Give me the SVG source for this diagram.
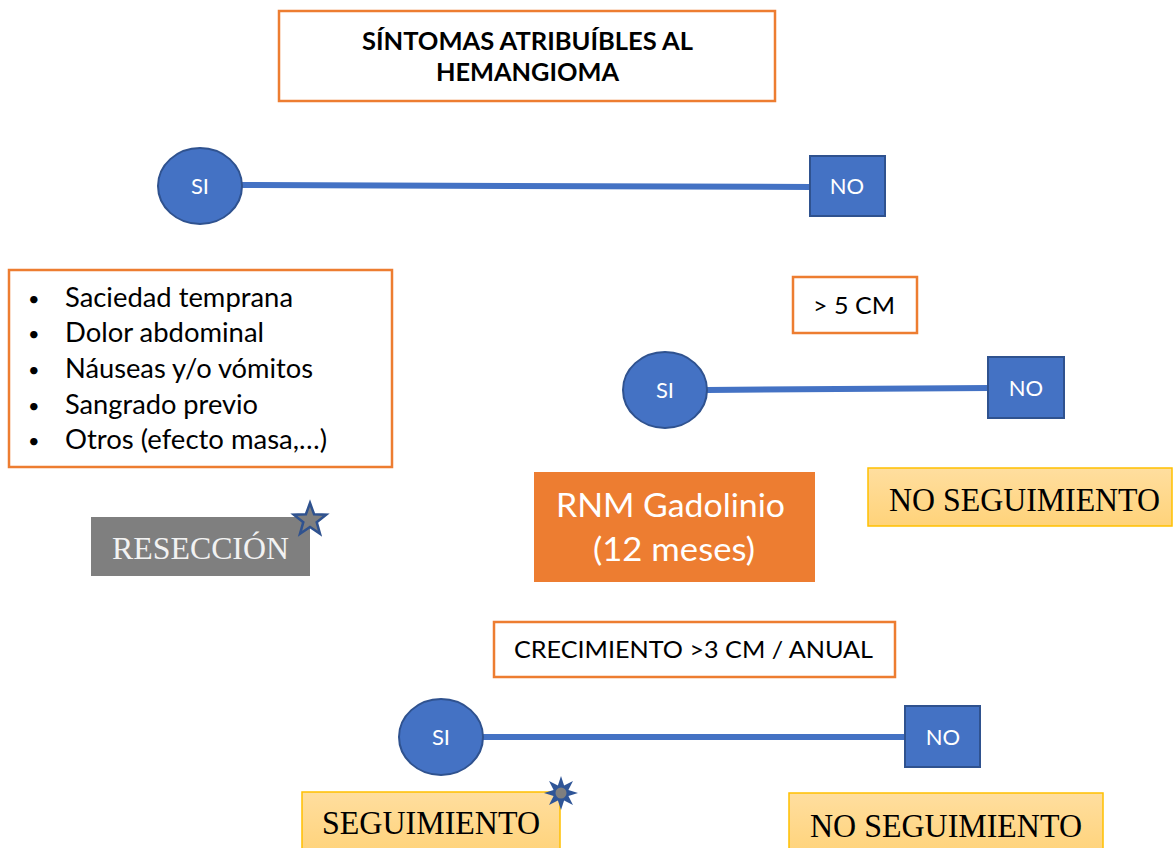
<svg xmlns="http://www.w3.org/2000/svg" width="1175" height="848" viewBox="0 0 1175 848">
<defs>
<linearGradient id="gold" x1="0" y1="0" x2="0" y2="1">
<stop offset="0" stop-color="#FFDE9F"/>
<stop offset="1" stop-color="#FFD37A"/>
</linearGradient>
<style>
.ob{fill:#FFFFFF;stroke:#ED7D31;stroke-width:2.5}
.bl{fill:#4472C4;stroke:#2F528F;stroke-width:2}
.wt{fill:#FFFFFF;font-family:Lato,"Liberation Sans",sans-serif;font-size:22px;text-anchor:middle}
.bk{fill:#000000;font-family:Lato,"Liberation Sans",sans-serif}
.gd{fill:url(#gold);stroke:#FFC000;stroke-width:1.5}
.tm{fill:#000000;font-family:"Liberation Serif","Times New Roman",serif;font-size:33px}
.cn{stroke:#4472C4;stroke-width:6;fill:none}
</style>
</defs>
<rect width="1175" height="848" fill="#FFFFFF"/>

<g id="connectors">
<line class="cn" x1="242" y1="185" x2="811" y2="187"/>
<line class="cn" x1="707" y1="390" x2="989" y2="388"/>
<line class="cn" x1="483" y1="737" x2="906" y2="737"/>
</g>

<g id="title">
<rect class="ob" x="279" y="11" width="496" height="90"/>
<text class="bk" x="362" y="50" font-size="24" font-weight="700" textLength="331" lengthAdjust="spacingAndGlyphs">SÍNTOMAS ATRIBUÍBLES AL</text>
<text class="bk" x="436" y="81" font-size="24" font-weight="700" textLength="183" lengthAdjust="spacingAndGlyphs">HEMANGIOMA</text>
</g>

<g id="si1">
<ellipse class="bl" cx="200" cy="186" rx="42" ry="38"/>
<text class="wt" x="200" y="194">SI</text>
</g>
<g id="no1">
<rect class="bl" x="810" y="156" width="75" height="60"/>
<text class="wt" x="847" y="194">NO</text>
</g>

<g id="sintomas">
<rect class="ob" x="9" y="270" width="383" height="197"/>
<g class="bk" font-size="26">
<text x="28" y="306" font-size="20">•</text>
<text x="28" y="341" font-size="20">•</text>
<text x="28" y="377" font-size="20">•</text>
<text x="28" y="413" font-size="20">•</text>
<text x="28" y="448" font-size="20">•</text>
<text x="65" y="307" textLength="228" lengthAdjust="spacingAndGlyphs">Saciedad temprana</text>
<text x="65" y="342" textLength="199" lengthAdjust="spacingAndGlyphs">Dolor abdominal</text>
<text x="65" y="378" textLength="248" lengthAdjust="spacingAndGlyphs">Náuseas y/o vómitos</text>
<text x="65" y="414" textLength="193" lengthAdjust="spacingAndGlyphs">Sangrado previo</text>
<text x="65" y="449" textLength="262" lengthAdjust="spacingAndGlyphs">Otros (efecto masa,…)</text>
</g>
</g>

<g id="reseccion">
<rect x="91" y="517" width="219" height="59" fill="#7F7F7F"/>
<text x="112" y="559" fill="#F2F2F2" font-family="'Liberation Serif','Times New Roman',serif" font-size="31" textLength="177" lengthAdjust="spacingAndGlyphs">RESECCIÓN</text>
<polygon points="310,503 314.1,514.3 326.2,514.7 316.7,522.2 320,533.8 310,527 300,533.8 303.3,522.2 293.8,514.7 305.9,514.3" fill="#7F7F7F" stroke="#2F528F" stroke-width="2.5" stroke-linejoin="miter"/>
</g>

<g id="mayor5">
<rect class="ob" x="793" y="277" width="124" height="56"/>
<text class="bk" x="813" y="314" font-size="24" textLength="82" lengthAdjust="spacingAndGlyphs">&gt; 5 CM</text>
</g>

<g id="si2">
<ellipse class="bl" cx="665" cy="390" rx="42" ry="38"/>
<text class="wt" x="665" y="398">SI</text>
</g>
<g id="no2">
<rect class="bl" x="988" y="357" width="76" height="61"/>
<text class="wt" x="1026" y="396">NO</text>
</g>

<g id="rnm">
<rect x="534" y="472" width="281" height="110" fill="#ED7D31"/>
<text x="556" y="517" fill="#FFFFFF" font-family="Lato,'Liberation Sans',sans-serif" font-size="32" textLength="229" lengthAdjust="spacingAndGlyphs">RNM Gadolinio</text>
<text x="593" y="561" fill="#FFFFFF" font-family="Lato,'Liberation Sans',sans-serif" font-size="32" textLength="162" lengthAdjust="spacingAndGlyphs">(12 meses)</text>
</g>

<g id="noseg1">
<rect class="gd" x="868" y="468" width="304" height="58"/>
<text class="tm" x="889" y="511" textLength="271" lengthAdjust="spacingAndGlyphs">NO SEGUIMIENTO</text>
</g>

<g id="crecimiento">
<rect class="ob" x="494" y="622" width="401" height="55"/>
<text class="bk" x="514" y="658" font-size="24" textLength="359" lengthAdjust="spacingAndGlyphs">CRECIMIENTO &gt;3 CM / ANUAL</text>
</g>

<g id="si3">
<ellipse class="bl" cx="441" cy="737" rx="42" ry="38"/>
<text class="wt" x="441" y="745">SI</text>
</g>
<g id="no3">
<rect class="bl" x="905" y="706" width="75" height="61"/>
<text class="wt" x="943" y="745">NO</text>
</g>

<g id="seguimiento">
<rect class="gd" x="302" y="792" width="258" height="62"/>
<text class="tm" x="322" y="834" textLength="218" lengthAdjust="spacingAndGlyphs">SEGUIMIENTO</text>
<polygon points="561,776 564.1,785.6 573,781 568.4,789.9 578,793 568.4,796.1 573,805 564.1,800.4 561,810 557.9,800.4 549,805 553.6,796.1 544,793 553.6,789.9 549,781 557.9,785.6" fill="#2F5597"/>
<circle cx="561" cy="793" r="5.5" fill="#7F7F7F"/>
</g>

<g id="noseg2">
<rect class="gd" x="789" y="793" width="314" height="62"/>
<text class="tm" x="810" y="837" textLength="272" lengthAdjust="spacingAndGlyphs">NO SEGUIMIENTO</text>
</g>
</svg>
